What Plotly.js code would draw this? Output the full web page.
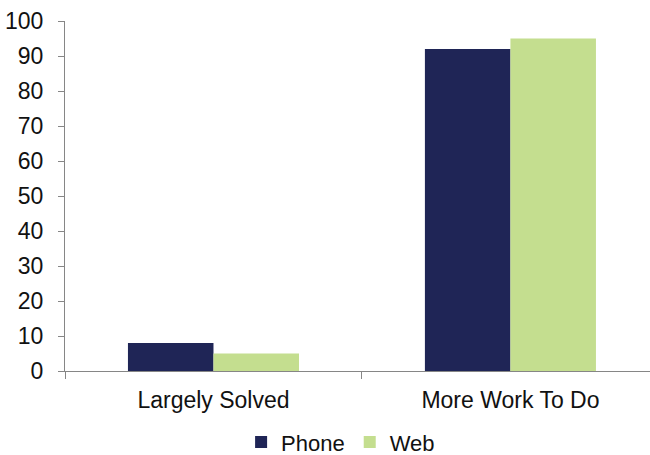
<!DOCTYPE html>
<html>
<head>
<meta charset="utf-8">
<script src="https://cdn.plot.ly/plotly-3.0.1.min.js"></script>
<style>html,body{margin:0;padding:0;background:#fff;}#chart{width:650px;height:455px;}</style>
</head>
<body>
<div id="chart"></div>
<script>
var categories = ["Largely Solved", "More Work To Do"];
var phoneValues = [8, 92];
var webValues = [5, 95];
var yTicks = [0, 10, 20, 30, 40, 50, 60, 70, 80, 90, 100];

var data = [
  {type: "bar", name: "Phone", x: categories, y: phoneValues, marker: {color: "#1F2556"}},
  {type: "bar", name: "Web", x: categories, y: webValues, marker: {color: "#C4DE8F"}}
];

var axisFont = {family: "Liberation Sans, Arial, sans-serif", size: 23, color: "#111"};
var legendFont = {family: "Liberation Sans, Arial, sans-serif", size: 22, color: "#111"};
var layout = {
  width: 650, height: 455,
  margin: {l: 65, r: 0, t: 21, b: 84, autoexpand: false},
  paper_bgcolor: "#fff", plot_bgcolor: "#fff",
  barmode: "group", bargap: 0.424, bargroupgap: 0,
  showlegend: true,
  legend: {orientation: "h", xref: "container", x: 0.524, xanchor: "center",
           yref: "container", y: 0.028, yanchor: "middle",
           font: legendFont, traceorder: "normal", itemwidth: 30},
  xaxis: {type: "category", range: [-0.5, 1.47], showline: true, linecolor: "#868686", linewidth: 1,
          ticks: "outside", tickson: "boundaries", ticklen: 7, tickcolor: "#868686",
          tickfont: axisFont, ticklabelstandoff: 8, showgrid: false, zeroline: false, fixedrange: true},
  yaxis: {range: [0, 100], tickvals: yTicks, showline: true, linecolor: "#868686", linewidth: 1,
          ticks: "outside", ticklen: 6, tickcolor: "#868686", tickfont: axisFont,
          ticklabelstandoff: 10, showgrid: false, zeroline: false, fixedrange: true}
};

Plotly.newPlot("chart", data, layout, {staticPlot: true});
</script>
</body>
</html>
